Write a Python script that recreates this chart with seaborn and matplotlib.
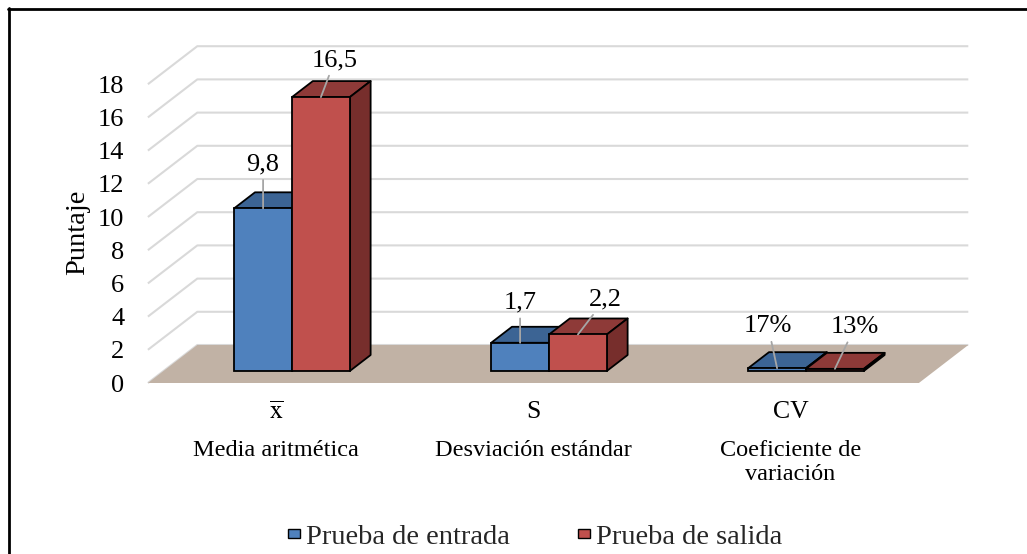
import numpy as np
import pandas as pd
import matplotlib
matplotlib.use("Agg")
import matplotlib.pyplot as plt
import matplotlib.transforms as mtransforms
from matplotlib.patches import Polygon
from matplotlib.lines import Line2D
import seaborn as sns

# ---------------- data ----------------
symbols = [r"$\overline{\mathrm{x}}$", "S", "CV"]
names = ["Media aritmética", "Desviación estándar", "Coeficiente de\nvariación"]
series = ["Prueba de entrada", "Prueba de salida"]
entrada = [9.8, 1.7, 0.17]
salida = [16.5, 2.2, 0.13]
entrada_labels = ["9,8", "1,7", "17%"]
salida_labels = ["16,5", "2,2", "13%"]
y_ticks = [0, 2, 4, 6, 8, 10, 12, 14, 16, 18]

# ---------------- style ----------------
sns.set_theme(style="white")
plt.rcParams["font.family"] = ["Liberation Serif", "DejaVu Serif"]
plt.rcParams["mathtext.fontset"] = "stix"

front_colors = {"Prueba de entrada": "#4f81bd", "Prueba de salida": "#c0504d"}
top_colors = ["#3c6494", "#8e3a38"]
side_colors = ["#2f4f76", "#772e2c"]

W, H = 1027, 554
fig = plt.figure(figsize=(W / 100, H / 100), dpi=100)
# axes box in pixels
AX_L, AX_R, AX_T, AX_B = 148, 968, 30, 400
ax = fig.add_axes([AX_L / W, 1 - AX_B / H, (AX_R - AX_L) / W, (AX_B - AX_T) / H])
ax.set_facecolor("none")

# pixel scale of the bar plane
PX_X, PX_Y = 257.0, 16.6       # pixels per category / per unit
X0, Y0 = 292.0, 371.0          # pixel position of x=0, y=0
RATIO = 1.3                    # depth: horizontal px per vertical px


def depth(d):
    """offset in data units for a depth of d pixels (upwards)"""
    return RATIO * d / PX_X, d / PX_Y


fdx, fdy = depth(-12)   # front plane (floor front edge)
bdx, bdy = depth(16)    # bar depth
wdx, wdy = depth(26)    # back wall

df = pd.DataFrame({
    "cat": names + names,
    "serie": [series[0]] * len(names) + [series[1]] * len(names),
    "val": entrada + salida,
})

sns.barplot(data=df, x="cat", y="val", hue="serie", order=names, hue_order=series,
            palette=front_colors, saturation=1, width=0.45, edgecolor="black",
            linewidth=1.3, ax=ax, legend=True)

ax.set_xlim((AX_L - X0) / PX_X, (AX_R - X0) / PX_X)
ax.set_ylim((Y0 - AX_B) / PX_Y, (Y0 - AX_T) / PX_Y)

# floor and grid (walls)
n = len(names)
xl, xr = -0.5, n - 0.5
floor = Polygon([(xl + fdx, fdy), (xr + fdx, fdy), (xr + wdx, wdy), (xl + wdx, wdy)],
                closed=True, facecolor="#c1b2a5", edgecolor="none", zorder=1.5)
ax.add_patch(floor)
for t in y_ticks:
    ax.plot([xl + fdx, xl + wdx, xr + wdx], [t + fdy, t + wdy, t + wdy],
            color="#d9d9d9", lw=1.5, zorder=1, solid_capstyle="butt", clip_on=False)

# 3D faces of the bars
for k, cont in enumerate(ax.containers):
    for bar in cont:
        x, w, h = bar.get_x(), bar.get_width(), bar.get_height()
        top = Polygon([(x, h), (x + w, h), (x + w + bdx, h + bdy), (x + bdx, h + bdy)],
                      closed=True, facecolor=top_colors[k], edgecolor="black",
                      lw=1.3, joinstyle="round", zorder=3 + k)
        side = Polygon([(x + w, 0), (x + w, h), (x + w + bdx, h + bdy), (x + w + bdx, bdy)],
                       closed=True, facecolor=side_colors[k], edgecolor="black",
                       lw=1.3, joinstyle="round", zorder=3 + k)
        ax.add_patch(top)
        ax.add_patch(side)
        bar.set_zorder(3.5 + k)

# data labels with leader lines
label_sets = [entrada_labels, salida_labels]
offsets = [[(0, 44), (0, 40), (-9, 42)], [(14, 37), (27, 35), (20, 42)]]
for k, cont in enumerate(ax.containers):
    for i, bar in enumerate(cont):
        cx = bar.get_x() + bar.get_width() / 2
        ax.annotate(label_sets[k][i], xy=(cx, bar.get_height()),
                    xytext=offsets[k][i], textcoords="offset pixels",
                    ha="center", va="center", fontsize=19, color="black",
                    arrowprops=dict(arrowstyle="-", color="#a6a6a6", lw=1.3,
                                    shrinkA=1, shrinkB=0), zorder=10)

# axes ticks
ax.set_yticks([t + fdy for t in y_ticks])
ax.set_yticklabels([str(t) for t in y_ticks])
ax.set_xticks([i + fdx for i in range(n)])
ax.set_xticklabels(symbols)
ax.tick_params(axis="y", length=0, pad=17, labelsize=19, labelcolor="black")
ax.tick_params(axis="x", length=0, pad=1, labelsize=18.5, labelcolor="black")
ax.set_xlabel("")
ax.set_ylabel("Puntaje", fontsize=20.5, color="black")
ax.yaxis.set_label_coords((90 - AX_L) / (AX_R - AX_L), (AX_B - 232) / (AX_B - AX_T))
for s in ax.spines.values():
    s.set_visible(False)
ax.grid(False)

# category names
trans = mtransforms.blended_transform_factory(ax.transData, ax.transAxes)
for i, name in enumerate(names):
    ax.text(i + fdx, (AX_B - 440) / (AX_B - AX_T), name, transform=trans,
            ha="center", va="top", fontsize=17.5, linespacing=1.2, color="black")

# legend
leg = ax.get_legend()
handles = leg.legend_handles
labels = [t.get_text() for t in leg.texts]
leg.remove()
for hd in handles:
    hd.set_edgecolor("black")
    hd.set_linewidth(1.0)
fig.legend(handles, labels, loc="center", bbox_to_anchor=(535 / W, 1 - 537 / H),
           ncol=2, frameon=False, fontsize=20.5, handlelength=0.42, handleheight=0.12,
           handletextpad=0.2, columnspacing=2.4, borderaxespad=0)

# outer frame (top and left only, as in the reference crop)
fig.add_artist(Line2D([8 / W, 1], [1 - 8.5 / H, 1 - 8.5 / H], transform=fig.transFigure,
                      color="black", lw=2))
fig.add_artist(Line2D([8.5 / W, 8.5 / W], [0, 1 - 8 / H], transform=fig.transFigure,
                      color="black", lw=2))

fig.savefig("out.png", dpi=100)
